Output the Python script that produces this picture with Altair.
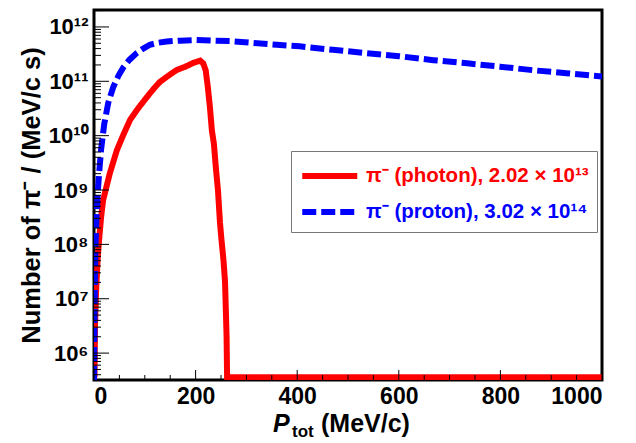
import altair as alt
import pandas as pd

# ---- data ----
series = ["photon", "proton"]
legend_text = ["π⁻ (photon), 2.02 × 10¹³", "π⁻ (proton), 3.02 × 10¹⁴"]
series_colors = ["#ff0000", "#0000ff"]

p_photon = [1, 2, 4, 7, 10, 14, 18, 24, 31, 38, 45, 57, 71, 87, 104, 117, 130, 146, 163, 180,
            196, 209, 215, 220, 224, 228, 232, 236, 240, 244, 248, 251, 255, 258, 261, 262, 1000]
n_photon = [3.6e5, 3.2e6, 1.3e7, 5.0e7, 1.2e8, 3.2e8, 6.5e8, 1.1e9, 2.0e9, 3.3e9,
            5.4e9, 1.0e10, 1.95e10, 3.2e10, 5.1e10, 7.2e10, 9.8e10, 1.26e11, 1.62e11, 1.86e11,
            2.19e11, 2.4e11, 2.14e11, 1.58e11, 7.9e10, 3.5e10, 1.26e10, 7.1e9, 2.5e9, 1.0e9,
            2.5e8, 1.2e8, 5.0e7, 2.0e7, 2.0e6, 3.6e5, 3.6e5]

p_proton = [0, 1, 2, 3, 5, 7, 10, 14, 20, 28, 38, 48, 58, 70, 84, 97, 110, 125, 143, 170,
            202, 235, 268, 310, 360, 405, 470, 537, 600, 668, 735, 799, 870, 930, 1000]
n_proton = [3.2e5, 4.0e6, 3.2e7, 1.0e8, 3.2e8, 8.0e8, 2.0e9, 5.6e9, 1.6e10, 4.0e10,
            7.9e10, 1.26e11, 1.82e11, 2.5e11, 3.3e11, 4.0e11, 4.7e11, 5.1e11, 5.4e11, 5.6e11,
            5.75e11, 5.6e11, 5.5e11, 5.1e11, 4.7e11, 4.4e11, 3.8e11, 3.3e11, 2.9e11, 2.45e11,
            2.14e11, 1.86e11, 1.58e11, 1.41e11, 1.23e11]

x_major = [0, 200, 400, 600, 800, 1000]
x_minor = [50, 100, 150, 250, 300, 350, 450, 500, 550, 650, 700, 750, 850, 900, 950]
y_exponents = [6, 7, 8, 9, 10, 11, 12]
y_major = [1e6, 1e7, 1e8, 1e9, 1e10, 1e11, 1e12]
y_major_labels = ["10⁶", "10⁷", "10⁸", "10⁹", "10¹⁰", "10¹¹", "10¹²"]
y_minor = [4e5, 5e5, 6e5, 7e5, 8e5, 9e5,
           2e6, 3e6, 4e6, 5e6, 6e6, 7e6, 8e6, 9e6,
           2e7, 3e7, 4e7, 5e7, 6e7, 7e7, 8e7, 9e7,
           2e8, 3e8, 4e8, 5e8, 6e8, 7e8, 8e8, 9e8,
           2e9, 3e9, 4e9, 5e9, 6e9, 7e9, 8e9, 9e9,
           2e10, 3e10, 4e10, 5e10, 6e10, 7e10, 8e10, 9e10,
           2e11, 3e11, 4e11, 5e11, 6e11, 7e11, 8e11, 9e11, 2e12]

x_title_parts = ["P", "tot", "(MeV/c)"]
y_title = "Number of π⁻ / (MeV/c s)"

x_domain = [0, 1000]
y_domain = [3.2e5, 2.05e12]

# ---- tables ----
df = pd.concat([
    pd.DataFrame({"p": p_photon, "n": n_photon, "series": series[0], "k": range(len(p_photon))}),
    pd.DataFrame({"p": p_proton, "n": n_proton, "series": series[1], "k": range(len(p_proton))}),
], ignore_index=True)

FONT = "Liberation Sans"
xscale = alt.Scale(domain=x_domain, nice=False, zero=False)
yscale = alt.Scale(type="log", domain=y_domain, nice=False)

ylab_expr = " : ".join(
    f"round(log(datum.value)/LN10) == {e} ? '{t}'" for e, t in zip(y_exponents, y_major_labels)
) + " : ''"
leg_expr = f"datum.value == '{series[0]}' ? '{legend_text[0]}' : '{legend_text[1]}'"
leg_color = f"datum.value == '{series[0]}' ? '{series_colors[0]}' : '{series_colors[1]}'"

xaxis = alt.Axis(values=x_major, ticks=False, domain=False, grid=False, format="d",
                 labelFont=FONT, labelFontSize=23, labelFontWeight="bold",
                 labelColor="black", labelPadding=5, title=None)
yaxis = alt.Axis(values=y_major, labelExpr=ylab_expr, ticks=False, domain=False,
                 grid=False, labelFont=FONT, labelFontSize=22, labelFontWeight="bold",
                 labelColor="black", labelPadding=6,
                 title=y_title, titleFont=FONT, titleFontSize=25.5,
                 titleFontWeight="bold", titleColor="black", titlePadding=4)

legend = alt.Legend(
    title=None, orient="none", legendX=197, legendY=141,
    padding=8, strokeColor="#777777", fillColor="white", cornerRadius=0,
    symbolType="M-1,0H3", symbolSize=756, symbolStrokeWidth=6,
    labelExpr=leg_expr, labelFont=FONT, labelFontSize=20.5, labelFontWeight="bold",
    labelColor=alt.ExprRef(leg_color), labelOffset=33, rowPadding=7, labelLimit=400,
)

lines = alt.Chart(df).mark_line(strokeWidth=6, clip=True).encode(
    x=alt.X("p:Q", scale=xscale, axis=xaxis),
    y=alt.Y("n:Q", scale=yscale, axis=yaxis),
    color=alt.Color("series:N", scale=alt.Scale(domain=series, range=series_colors), legend=legend),
    strokeDash=alt.StrokeDash("series:N", scale=alt.Scale(domain=series, range=[[1, 0], [14, 5]]),
                              legend=legend),
    order="k:Q",
)

def yticks(vals, length):
    return alt.Chart(pd.DataFrame({"v": vals})).mark_rule(color="black", strokeWidth=1).encode(
        y=alt.Y("v:Q", scale=yscale, axis=yaxis), x=alt.value(0), x2=alt.value(length))

def xticks(vals, length):
    return alt.Chart(pd.DataFrame({"v": vals})).mark_rule(color="black", strokeWidth=1).encode(
        x=alt.X("v:Q", scale=xscale, axis=xaxis), y=alt.value(370), y2=alt.value(370 - length))

def title_part(txt, x, y, size, style):
    return alt.Chart(pd.DataFrame({"t": [txt]})).mark_text(
        font=FONT, fontSize=size, fontWeight="bold", fontStyle=style, align="left",
        baseline="alphabetic", color="black").encode(
        text="t:N", x=alt.value(x), y=alt.value(y))

chart = alt.layer(
    lines, yticks(y_major, 15), yticks(y_minor, 7), xticks(x_major, 10), xticks(x_minor, 5),
    title_part(x_title_parts[0], 179, 422, 25, "italic"),
    title_part(x_title_parts[1], 198, 427, 17, "normal"),
    title_part(x_title_parts[2], 227, 422, 25, "normal"),
).properties(
    width=508, height=370, autosize="none",
    padding={"left": 94, "top": 10, "right": 34, "bottom": 63},
    background="white",
).configure_view(stroke="black", strokeWidth=3)

chart.save("out.html", embed_options={"renderer": "svg", "actions": False})
